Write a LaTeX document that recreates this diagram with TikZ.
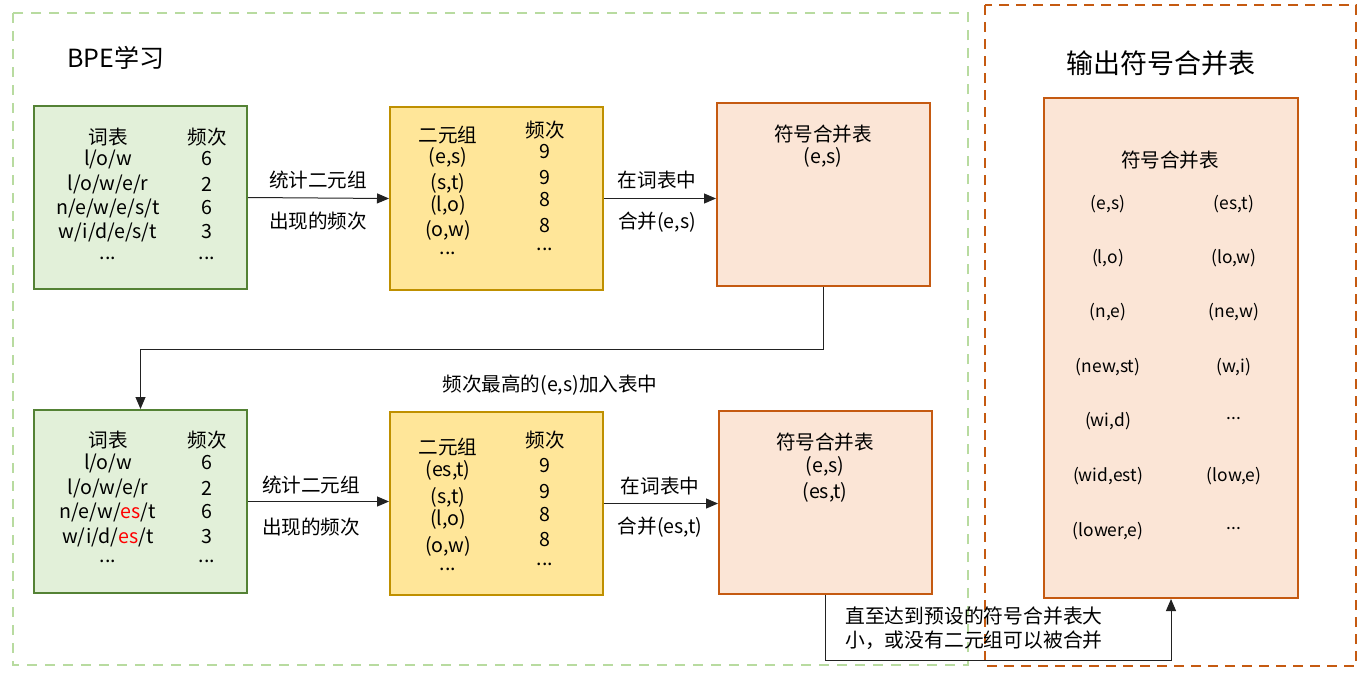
\documentclass[tikz,border=0pt]{standalone}
\usepackage{fontspec}
\setmainfont{Noto Sans CJK SC}
\usetikzlibrary{arrows.meta}
\definecolor{grnF}{HTML}{E2F0D9}
\definecolor{grnB}{HTML}{548235}
\definecolor{yelF}{HTML}{FFE699}
\definecolor{yelB}{HTML}{BF9000}
\definecolor{orgF}{HTML}{FBE5D6}
\definecolor{orgB}{HTML}{C55A11}
\definecolor{grnD}{HTML}{B8DBA0}
\definecolor{lineC}{HTML}{222222}
\begin{document}
\begin{tikzpicture}[x=1pt,y=-1pt,
  font=\fontsize{19.6}{23}\selectfont,
  box/.style={line width=2pt, minimum width=213pt, minimum height=183pt, anchor=north west, inner sep=0pt},
  gbox/.style={box, draw=grnB, fill=grnF},
  ybox/.style={box, draw=yelB, fill=yelF},
  obox/.style={box, draw=orgB, fill=orgF},
  txt/.style={inner sep=0pt, anchor=center},
  small/.style={txt, font=\fontsize{17.4}{20}\selectfont},
  arr/.style={draw=lineC, line width=1pt, -{Triangle[length=12pt,width=10pt]}},
]
\useasboundingbox (0,0) rectangle (1364,675);
\fill[white] (0,0) rectangle (1364,675);

% outer dashed frames
\draw[grnD, line width=2pt, dash pattern=on 10pt off 8pt] (13,13) rectangle (968,665);
\draw[orgB, line width=2.5pt, dash pattern=on 10pt off 7pt] (985,5) rectangle (1356,666);

% titles
\node[txt, font=\fontsize{25}{28}\selectfont] (t1) at (116,58) {BPE学习};
\node[txt, font=\fontsize{27}{30}\selectfont] (t2) at (1161,63) {输出符号合并表};

% boxes
\node[gbox] (g1) at (33,105) {};
\node[ybox] (y1) at (389,106) {};
\node[obox] (o1) at (716,102) {};
\node[gbox] (g2) at (33,409) {};
\node[ybox] (y2) at (389,411) {};
\node[obox] (o2) at (718,410) {};
\node[box, draw=orgB, fill=orgF, minimum width=254pt, minimum height=500pt] (big) at (1043,97) {};

% green top contents
\node[txt] (g1h1) at (108,137) {词表};
\node[txt] (g1h2) at (207,137) {频次};
\node[txt] (g1r1) at (108,159) {l/o/w};
\node[txt] (g1r2) at (108,184) {l/o/w/e/r};
\node[txt] (g1r3) at (108,208) {n/e/w/e/s/t};
\node[txt] (g1r4) at (108,232) {w/i/d/e/s/t};
\node[txt] (g1r5) at (108,258) {...};
\node[txt] (g1n1) at (207,159) {6};
\node[txt] (g1n2) at (207,184) {2};
\node[txt] (g1n3) at (207,208) {6};
\node[txt] (g1n4) at (207,232) {3};
\node[txt] (g1n5) at (207,258) {...};

% green bottom contents
\node[txt] (g2h1) at (108,440) {词表};
\node[txt] (g2h2) at (207,440) {频次};
\node[txt] (g2r1) at (108,463) {l/o/w};
\node[txt] (g2r2) at (108,488) {l/o/w/e/r};
\node[txt] (g2r3) at (108,512) {n/e/w/\textcolor{red}{es}/t};
\node[txt] (g2r4) at (108,537) {w/i/d/\textcolor{red}{es}/t};
\node[txt] (g2r5) at (108,561) {...};
\node[txt] (g2n1) at (207,463) {6};
\node[txt] (g2n2) at (207,488) {2};
\node[txt] (g2n3) at (207,512) {6};
\node[txt] (g2n4) at (207,537) {3};
\node[txt] (g2n5) at (207,561) {...};

% yellow top contents
\node[txt] (y1h1) at (448,135) {二元组};
\node[txt] (y1h2) at (545,130) {频次};
\node[txt] (y1r1) at (448,157) {(e,s)};
\node[txt] (y1r2) at (448,183) {(s,t)};
\node[txt] (y1r3) at (448,205) {(l,o)};
\node[txt] (y1r4) at (448,230) {(o,w)};
\node[txt] (y1r5) at (448,253) {...};
\node[txt] (y1n1) at (545,152) {9};
\node[txt] (y1n2) at (545,178) {9};
\node[txt] (y1n3) at (545,200) {8};
\node[txt] (y1n4) at (545,226) {8};
\node[txt] (y1n5) at (545,249) {...};

% yellow bottom contents
\node[txt] (y2h1) at (448,447) {二元组};
\node[txt] (y2h2) at (545,440) {频次};
\node[txt] (y2r1) at (448,470) {(es,t)};
\node[txt] (y2r2) at (448,497) {(s,t)};
\node[txt] (y2r3) at (448,519) {(l,o)};
\node[txt] (y2r4) at (448,546) {(o,w)};
\node[txt] (y2r5) at (448,569) {...};
\node[txt] (y2n1) at (545,466) {9};
\node[txt] (y2n2) at (545,492) {9};
\node[txt] (y2n3) at (545,515) {8};
\node[txt] (y2n4) at (545,540) {8};
\node[txt] (y2n5) at (545,564) {...};

% orange contents
\node[txt] (o1h) at (823,134) {符号合并表};
\node[txt] (o1r1) at (823,157) {(e,s)};
\node[txt] (o2h) at (825,442) {符号合并表};
\node[txt] (o2r1) at (825,466) {(e,s)};
\node[txt] (o2r2) at (825,492) {(es,t)};

% big table contents
\node[txt] (bh) at (1170,160) {符号合并表};
\node[small] (b11) at (1108,204) {(e,s)};
\node[small] (b12) at (1234,204) {(es,t)};
\node[small] (b21) at (1108,258) {(l,o)};
\node[small] (b22) at (1234,258) {(lo,w)};
\node[small] (b31) at (1108,312) {(n,e)};
\node[small] (b32) at (1234,312) {(ne,w)};
\node[small] (b41) at (1108,367) {(new,st)};
\node[small] (b42) at (1234,367) {(w,i)};
\node[small] (b51) at (1108,421) {(wi,d)};
\node[small] (b52) at (1234,419) {...};
\node[small] (b61) at (1108,476) {(wid,est)};
\node[small] (b62) at (1234,476) {(low,e)};
\node[small] (b71) at (1108,531) {(lower,e)};
\node[small] (b72) at (1234,529) {...};

% connectors
\draw[arr] (g1.east) -- (y1.west);
\node[txt] (l1a) at (318,180) {统计二元组};
\node[txt] (l1b) at (318,221) {出现的频次};
\draw[arr] (y1.east) -- (o1.west |- y1.east);
\node[txt] (l2a) at (657,180) {在词表中};
\node[txt] (l2b) at (657,222) {合并(e,s)};

\draw[arr] (o1.south) -- ++(0,62) -| (g2.north);
\node[txt] (l3) at (550,385) {频次最高的(e,s)加入表中};

\draw[arr] (g2.east) -- (y2.west |- g2.east);
\node[txt] (l4a) at (311,485) {统计二元组};
\node[txt] (l4b) at (311,527) {出现的频次};
\draw[arr] (y2.east) -- (o2.west |- y2.east);
\node[txt] (l5a) at (660,486) {在词表中};
\node[txt] (l5b) at (660,527) {合并(es,t)};

\draw[arr] (o2.south) -- ++(0,65) -| (big.south);
\node[anchor=west, inner sep=0pt, align=left, font=\fontsize{19.8}{24}\selectfont] (l6) at (845,628) {直至达到预设的符号合并表大\\小，或没有二元组可以被合并};
\end{tikzpicture}
\end{document}
